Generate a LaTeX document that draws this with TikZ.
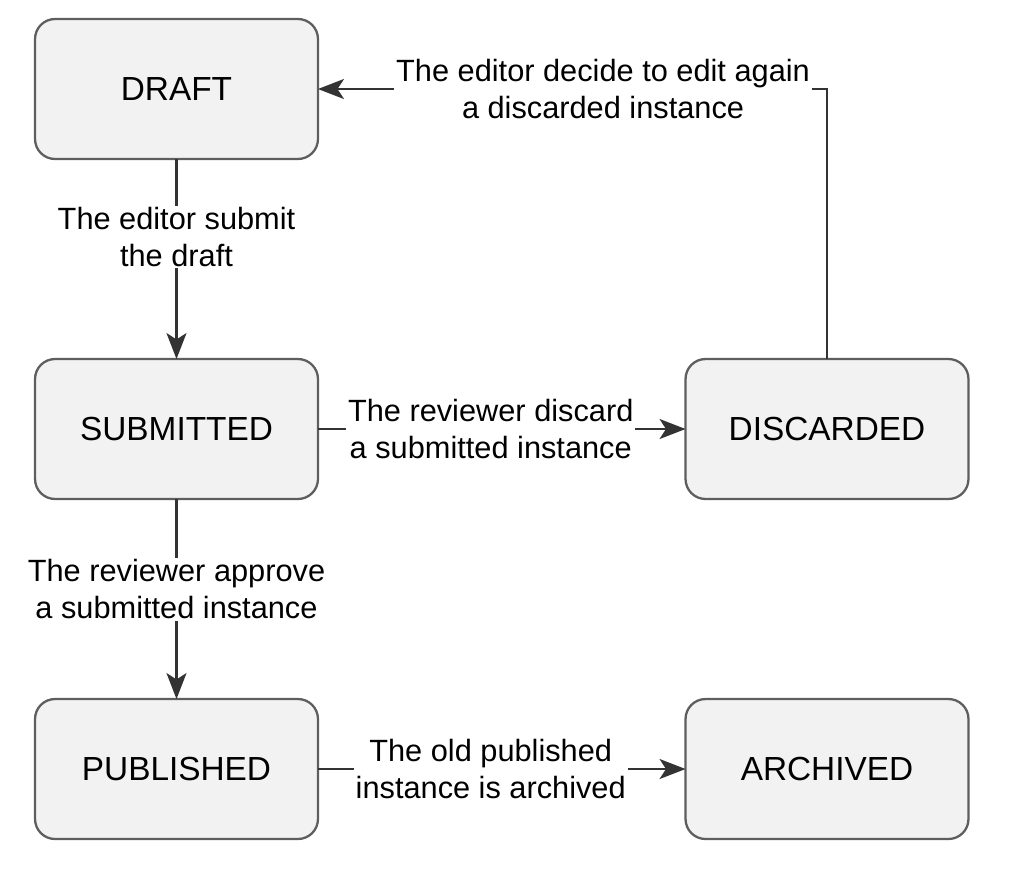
\documentclass[tikz,border=0pt]{standalone}
\usepackage{fontspec}
\setmainfont{Liberation Sans}
\usetikzlibrary{arrows.meta}
\definecolor{boxfill}{HTML}{F2F2F2}
\definecolor{boxline}{HTML}{5E5E5E}
\definecolor{arrowline}{HTML}{333333}

\begin{document}
\begin{tikzpicture}[x=0.02cm, y=-0.02cm]
	\tikzset	{
		state/.style={draw=boxline, fill=boxfill, line width=1.3pt, rounded corners=0.4cm,
			minimum width=5.66cm, minimum height=2.8cm, outer sep=0pt,
			font=\fontsize{19}{23}\selectfont},
		trans/.style={draw=arrowline, line width=1.3pt,
			-{Stealth[length=0.52cm, width=0.4cm, inset=0.13cm]}},
		lbl/.style={fill=white, align=center, inner sep=1pt,
			font=\fontsize{17.5}{21}\selectfont},
	}
	\useasboundingbox (0,0) rectangle (1016,876);

	% states
	\node[state] (draft)     at (176.5,89)  {DRAFT};
	\node[state] (submitted) at (176.5,429) {SUBMITTED};
	\node[state] (discarded) at (827,429)   {DISCARDED};
	\node[state] (published) at (176.5,769) {PUBLISHED};
	\node[state] (archived)  at (827,769)   {ARCHIVED};

	% transitions
	\draw[trans] (draft) -- node[lbl, pos=0.39] {The editor submit\\the draft} (submitted);
	\draw[trans] (submitted) -- node[lbl, pos=0.47] {The reviewer discard\\a submitted instance} (discarded);
	\draw[trans] (submitted) -- node[lbl, pos=0.45] {The reviewer approve\\a submitted instance} (published);
	\draw[trans] (published) -- node[lbl, pos=0.47] {The old published\\instance is archived} (archived);
	\draw[trans] (discarded.north) |- node[lbl, pos=0.72] {The editor decide to edit again\\a discarded instance} (draft.east);
\end{tikzpicture}
\end{document}
